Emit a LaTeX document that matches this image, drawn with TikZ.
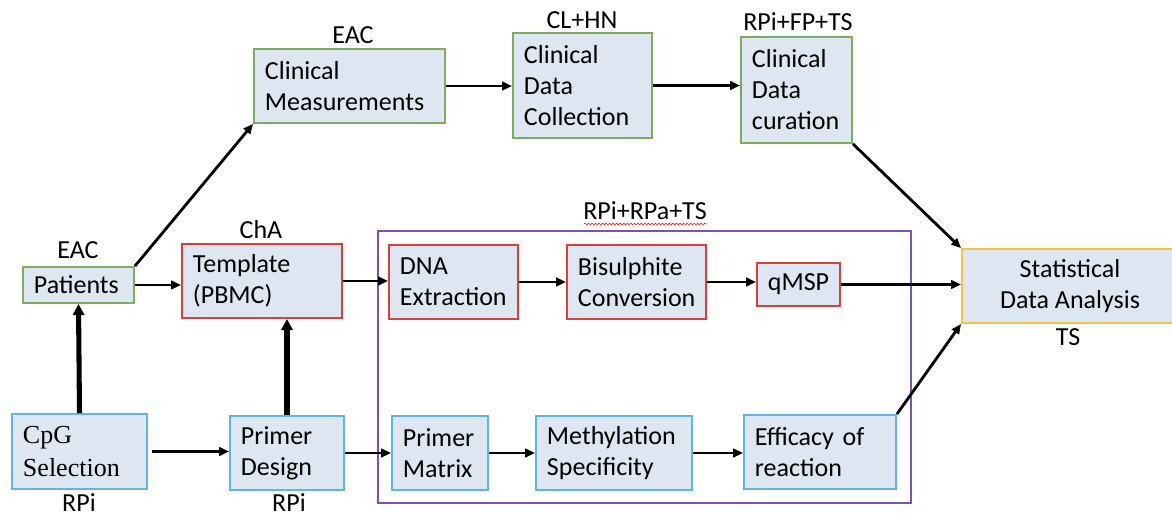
\documentclass[tikz,border=0pt]{standalone}
\usepackage{fontspec}
\setmainfont{Carlito}
\newfontfamily\serifcpg{Liberation Serif}
\usepackage{tikz}
\usetikzlibrary{arrows.meta,
                calc,
                positioning,
                decorations.pathmorphing}

\definecolor{boxfill}{HTML}{DEE7F1}
\definecolor{grn}{HTML}{7BAE5C}
\definecolor{rd}{HTML}{D8403A}
\definecolor{blu}{HTML}{5DB5E8}
\definecolor{orng}{HTML}{F6C443}
\definecolor{prpl}{HTML}{7E50B8}

\tikzset{
  blk/.style={draw, fill=boxfill, line width=1.3pt, inner xsep=0.275cm,
              inner ysep=2pt, align=left, font=\fontsize{18.5}{22}\selectfont},
  gblk/.style={blk, draw=grn},
  rblk/.style={blk, draw=rd},
  bblk/.style={blk, draw=blu},
  lbl/.style={font=\fontsize{18.5}{22}\selectfont, inner sep=1pt},
  arr/.style={-{Triangle[length=7pt,width=6pt]}, line width=2pt},
  fat/.style={-{Triangle[length=8pt,width=8pt]}, line width=3.6pt}
}

\begin{document}
\begin{tikzpicture}[x=0.025cm,y=-0.025cm]
\useasboundingbox (0,0) rectangle (1172,518);

% upper row: clinical side
\node[gblk, minimum width=2.775cm, minimum height=0.9cm, text width=2.225cm] (pat) at (78.5,285) {Patients};
\node[gblk, minimum width=4.775cm, minimum height=1.85cm, text width=4.225cm] (meas) at (349.5,86) {Clinical\\Measurements};
\node[gblk, minimum width=3.475cm, minimum height=2.625cm, text width=2.925cm] (coll) at (582.5,85.5) {Clinical\\Data\\Collection};
\node[gblk, minimum width=2.775cm, minimum height=2.65cm, text width=2.225cm] (cur) at (796.5,90) {Clinical\\Data\\curation};

\node[lbl] (patl) at (78,250) {EAC};
\node[lbl] (measl) at (353,35) {EAC};
\node[lbl] (colll) at (582,20) {CL+HN};
\node[lbl] (curl) at (798,22) {RPi+FP+TS};

% middle row
\node[rblk, minimum width=4.0cm, minimum height=1.85cm, text width=3.45cm] (tmpl) at (262,281) {Template\\(PBMC)};
\node[lbl] (tmpll) at (261,230) {ChA};

% lab group
\node[draw=prpl, line width=1.3pt, minimum width=13.325cm, minimum height=6.8cm] (grp) at (644.5,367) {};
\node[lbl] (grpl) at (645,211) {RPi+RPa+TS};
\draw[red, line width=0.4pt, decorate, decoration={snake, amplitude=0.6pt, segment length=2.5pt}]
  (584,224) -- (707,224);

\node[rblk, minimum width=3.225cm, minimum height=1.85cm, text width=2.675cm] (dna) at (453.5,282) {DNA\\Extraction};
\node[rblk, minimum width=3.475cm, minimum height=1.85cm, text width=2.925cm] (bis) at (636.5,282) {Bisulphite\\Conversion};
\node[rblk, minimum width=2.075cm, minimum height=1.075cm, align=center, inner xsep=2pt] (qmsp) at (798.5,284.5) {qMSP};

\node[blk, draw=orng, minimum width=5.4cm, minimum height=1.85cm, align=center] (stat) at (1070,286) {Statistical\\Data Analysis};
\node[lbl] (statl) at (1068,337) {TS};

% lower row: primers
\node[bblk, minimum width=3.375cm, minimum height=1.875cm, text width=2.825cm, font=\fontsize{18.5}{23}\serifcpg] (cpg) at (79.5,451.5) {CpG\\Selection};
\node[lbl] (cpgl) at (79,503) {RPi};
\node[bblk, minimum width=2.85cm, minimum height=1.85cm, text width=2.3cm] (pdes) at (287,453) {Primer\\Design};
\node[lbl] (pdesl) at (289,503) {RPi};
\node[bblk, minimum width=2.4cm, minimum height=1.85cm, text width=1.85cm] (pmat) at (440,453) {Primer\\Matrix};
\node[bblk, minimum width=3.9cm, minimum height=1.85cm, text width=3.35cm] (meth) at (614,453) {Methylation\\Specificity};
\node[bblk, minimum width=3.8cm, minimum height=1.85cm, text width=3.25cm] (eff) at (820,452) {Efficacy of\\reaction};

% connectors
\draw[arr] (pat.north east) -- (meas.south west);
\draw[arr] (meas.east) -- (meas.east -| coll.west);
\draw[arr] (coll.east) -- (coll.east -| cur.west);
\draw[arr] (cur.south east) -- (stat.north west);
\draw[arr] (pat.east) -- (pat.east -| tmpl.west);
\draw[arr] (tmpl.east) -- (tmpl.east -| dna.west);
\draw[arr] (dna.east) -- (dna.east -| bis.west);
\draw[arr] (bis.east) -- (bis.east -| qmsp.west);
\draw[arr] (qmsp.east) -- (qmsp.east -| stat.west);
\draw[arr] (eff.north east) -- (stat.south west);
\draw[fat] (cpg.north) -- (pat.south);
\draw[fat] (pdes.north) -- (pdes.north |- tmpl.south);
\draw[arr, shorten <=3pt] (cpg.east) -- (cpg.east -| pdes.west);
\draw[arr] (pdes.east) -- (pdes.east -| pmat.west);
\draw[arr] (pmat.east) -- (pmat.east -| meth.west);
\draw[arr] (meth.east) -- (meth.east -| eff.west);
\end{tikzpicture}
\end{document}
